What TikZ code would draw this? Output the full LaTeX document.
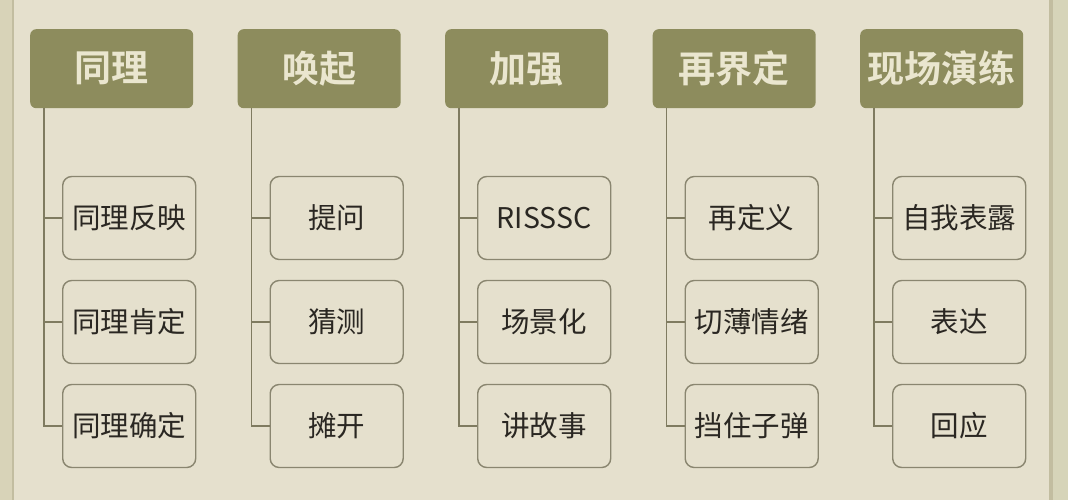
\documentclass[tikz,border=0pt]{standalone}
\usepackage{fontspec}
\setmainfont{Noto Sans CJK SC}
\newfontfamily\cjk{Noto Sans CJK SC}
\newfontfamily\cjkbold{Noto Sans CJK SC Bold}
\definecolor{bg}{HTML}{E5E0CD}
\definecolor{stripL}{HTML}{D8D3B8}
\definecolor{stripR}{HTML}{D6D4B9}
\definecolor{edge}{HTML}{C2BDA0}
\definecolor{head}{HTML}{8D8C5D}
\definecolor{headtext}{HTML}{EAE6CF}
\definecolor{boxline}{HTML}{8A8670}
\definecolor{conn}{HTML}{7F7B60}
\definecolor{txt}{HTML}{2A2722}
\tikzset{
  x=1pt, y=-1pt,
  headbox/.style={fill=head, rounded corners=6pt, minimum width=163pt, minimum height=79pt, inner sep=0pt, text=headtext, font=\cjkbold\fontsize{37}{40}\selectfont, anchor=north west},
  itembox/.style={draw=boxline, line width=1.4pt, fill=bg, rounded corners=9pt, minimum width=133pt, minimum height=83pt, inner sep=0pt, text=txt, font=\cjk\fontsize{28.5}{32}\selectfont, anchor=west},
  link/.style={draw=conn, line width=1.3pt}
}
\begin{document}
\begin{tikzpicture}
\fill[bg] (0,0) rectangle (1068,500);
\useasboundingbox (0,0) rectangle (1068,500);
\fill[stripL] (0,0) rectangle (12,500);
\fill[edge] (12,0) rectangle (14,500);
\fill[edge] (1049,0) rectangle (1053,500);
\fill[stripR] (1053,0) rectangle (1068,500);
% columns
\foreach \i/\h/\a/\b/\c in {0/同理/同理反映/同理肯定/同理确定,
                            1/唤起/提问/猜测/摊开,
                            2/加强/RISSSC/场景化/讲故事,
                            3/再界定/再定义/切薄情绪/挡住子弹,
                            4/现场演练/自我表露/表达/回应}{
  \pgfmathsetmacro{\xx}{30+207.5*\i}
  \node[headbox] (h\i) at (\xx,29) {\h};
  \node[itembox] (a\i) at (\xx+32,218) {\a};
  \node[itembox] (b\i) at (\xx+32,322) {\b};
  \node[itembox] (c\i) at (\xx+32,426) {\c};
  \coordinate (t\i) at (\xx+14,108);
  \coordinate (k\i) at (\xx+14,426);
  \draw[link] (t\i) -- (k\i) -- (c\i.west);
  \draw[link] (t\i |- a\i.west) -- (a\i.west);
  \draw[link] (t\i |- b\i.west) -- (b\i.west);
}
\end{tikzpicture}
\end{document}
